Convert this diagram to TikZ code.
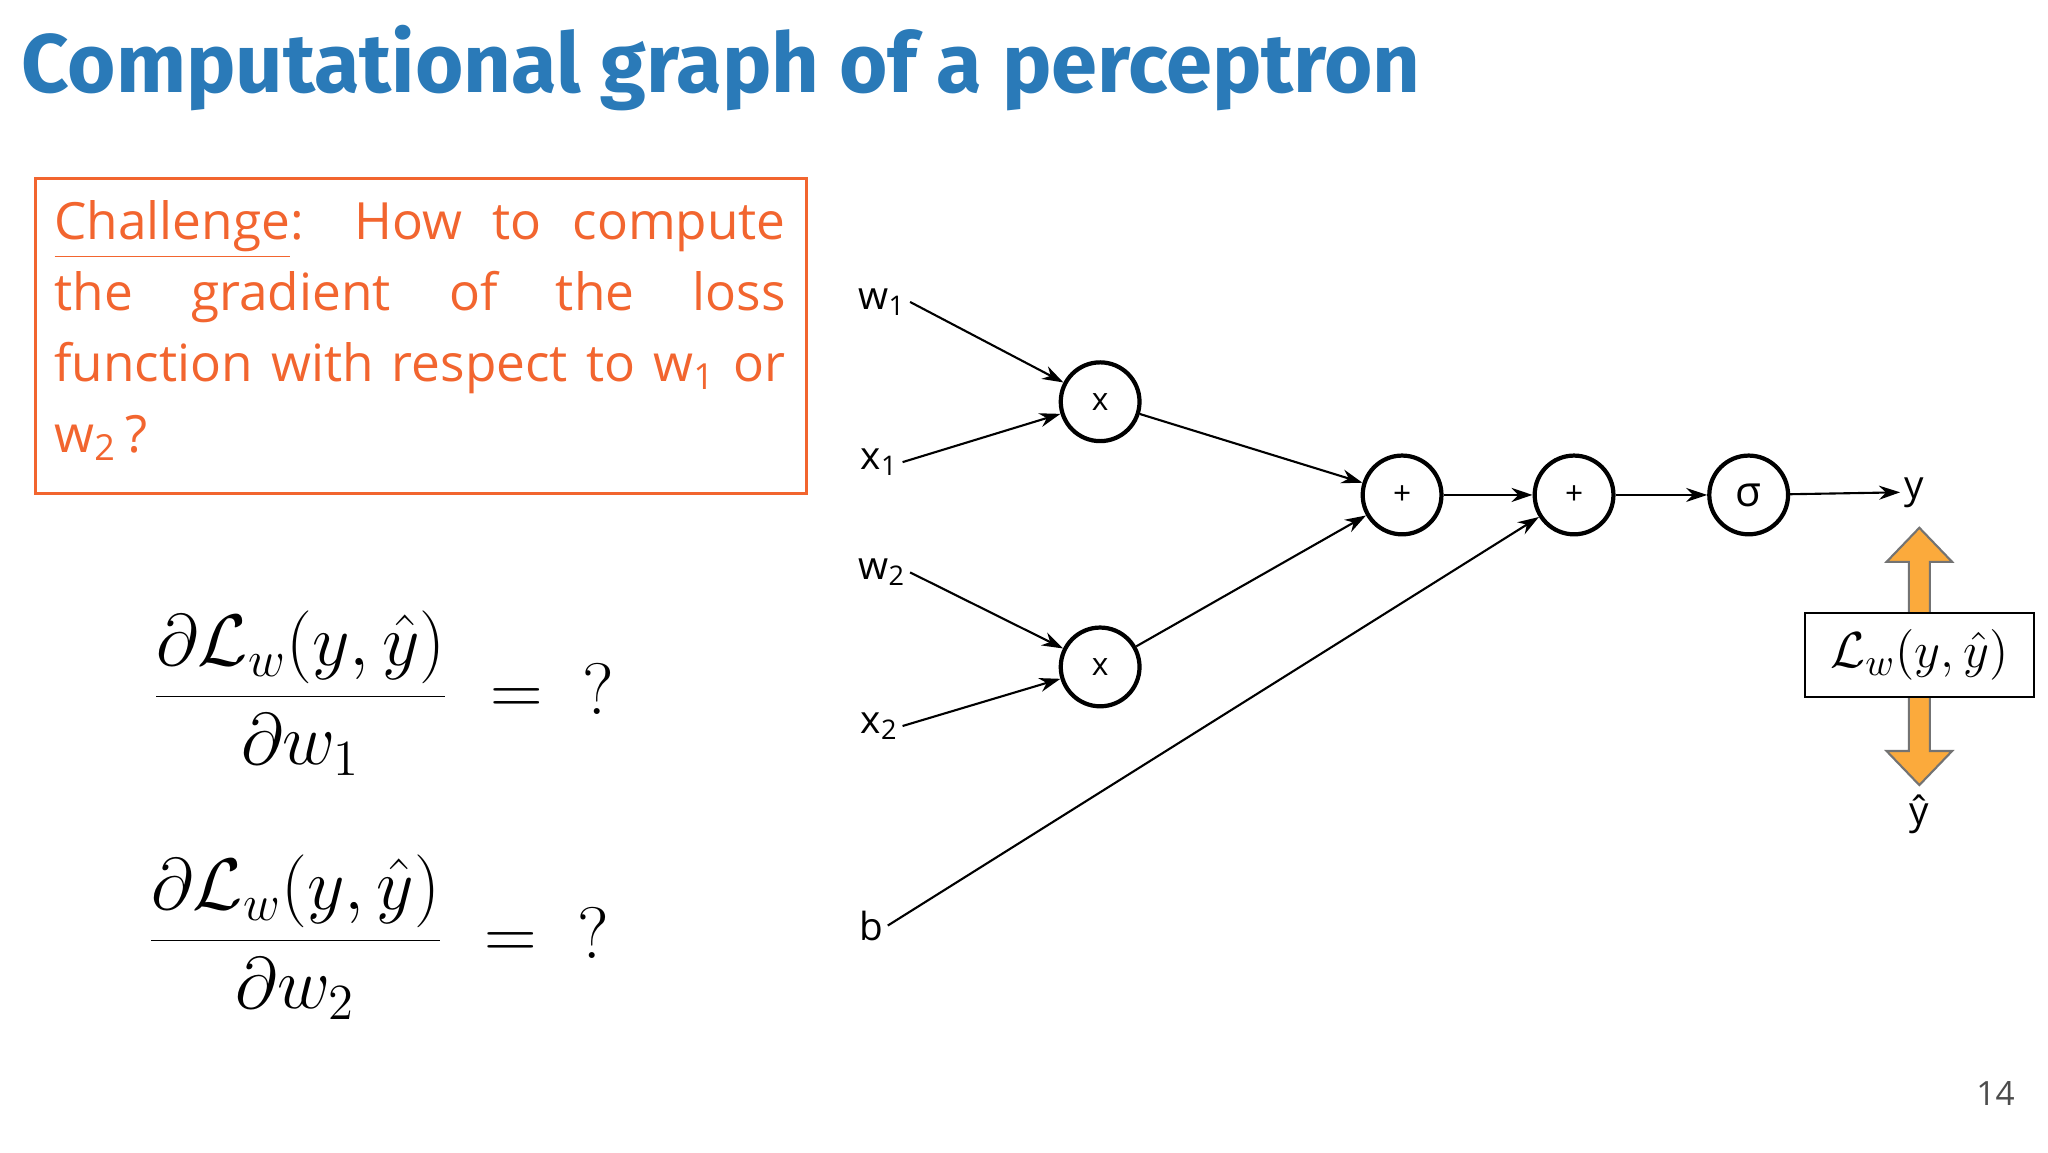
\documentclass[tikz,border=0pt]{standalone}
\usepackage{fontspec}
\setmainfont{Open Sans}
\newfontfamily\titlefont{Fira Sans}
\usetikzlibrary{arrows.meta}
\definecolor{tblue}{HTML}{2A7AB8}
\definecolor{torange}{HTML}{F2652F}
\definecolor{aorange}{HTML}{FBAA3C}
\newlength\pu \setlength\pu{0.013128cm}
\tikzset{op/.style={draw,circle,line width=1.2pt,minimum size=60\pu,inner sep=0pt,font=\fontsize{9}{10}\selectfont},
lbl/.style={inner sep=1pt,font=\fontsize{11}{12}\selectfont},
conn/.style={-{Stealth[length=6pt,width=4pt]},line width=0.6pt}}
\begin{document}
\begin{tikzpicture}[x=0.013128cm,y=-0.013128cm]
\useasboundingbox (0,0) rectangle (1560,877.5);
\node[anchor=west,text=tblue,font=\titlefont\bfseries\fontsize{23.6}{28}\selectfont,inner sep=0] (title) at (16,52) {Computational graph of a perceptron};
\node[draw=torange,line width=0.8pt,anchor=north west,minimum width=587\pu,minimum height=240\pu] (box) at (26,135) {};
\node[anchor=north west,text width=557\pu,align=justify,text=torange,inner sep=0,font=\fontsize{14.6}{20.2}\selectfont] (chal) at (41,152)
{\hyphenpenalty=10000\spaceskip=0.3em plus 3em\underline{Challenge}: How to compute the gradient of the loss function with respect to w\textsubscript{1} or w\textsubscript{2}\,?};
\node[font=\fontsize{21}{24}\selectfont] (e1) at (292,528) {$\displaystyle\frac{\partial\mathcal{L}_w(y,\hat y)}{\partial w_1}\;=\;\;?$};
\node[font=\fontsize{21}{24}\selectfont] (e2) at (288,714) {$\displaystyle\frac{\partial\mathcal{L}_w(y,\hat y)}{\partial w_2}\;=\;\;?$};
% inputs
\node[lbl] (w1) at (672,230) {w\textsubscript{1}};
\node[lbl] (x1) at (670,352) {x\textsubscript{1}};
\node[lbl] (w2) at (672,436) {w\textsubscript{2}};
\node[lbl] (x2) at (670,553) {x\textsubscript{2}};
\node[lbl] (b) at (664,705) {b};
\node[op] (m1) at (838,306) {x};
\node[op] (m2) at (838,508) {x};
\node[op] (p1) at (1068,377) {+};
\node[op] (p2) at (1199,377) {+};
\node[op,font=\fontsize{12}{12}\selectfont] (s) at (1332,377) {σ};
\node[lbl] (y) at (1458,375) {y};
\node[lbl] (yh) at (1462,620) {ŷ};
\draw[conn] (w1.east) -- (m1);
\draw[conn] (x1.east) -- (m1);
\draw[conn] (w2.east) -- (m2);
\draw[conn] (x2.east) -- (m2);
\draw[conn] (m1) -- (p1);
\draw[conn] (m2) -- (p1);
\draw[conn] (b.east) -- (p2);
\draw[conn] (p1) -- (p2);
\draw[conn] (p2) -- (s);
\draw[conn] (s) -- (y.west);
% loss arrow
\draw[draw=black!55,fill=aorange,line width=0.6pt] (1462,402) -- (1487,428) -- (1470,428) -- (1470,572) -- (1487,572) -- (1462,598) -- (1437,572) -- (1454,572) -- (1454,428) -- (1437,428) -- cycle;
\node[draw,fill=white,line width=0.6pt,minimum width=174\pu,minimum height=64\pu,inner sep=0,font=\fontsize{15}{20}\selectfont] (L) at (1462,499) {$\mathcal{L}_w(y,\hat y)$};
\node[text=black!70,font=\fontsize{9.5}{10}\selectfont] (pg) at (1520,833) {14};
\end{tikzpicture}
\end{document}
